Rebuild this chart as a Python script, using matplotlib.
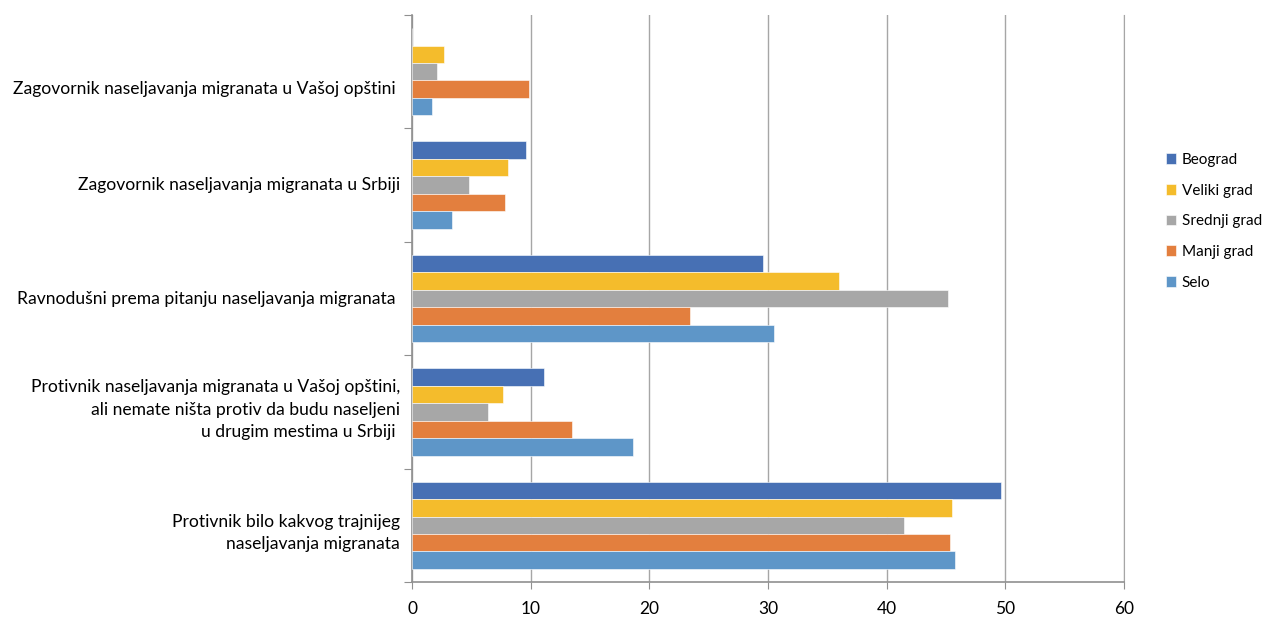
import matplotlib.pyplot as plt
import numpy as np

plt.rcParams['font.family'] = ['Lato', 'DejaVu Sans']

categories = [
    "Zagovornik naseljavanja migranata u Vašoj opštini ",
    "Zagovornik naseljavanja migranata u Srbiji",
    "Ravnodušni prema pitanju naseljavanja migranata ",
    "Protivnik naseljavanja migranata u Vašoj opštini,\nali nemate ništa protiv da budu naseljeni\nu drugim mestima u Srbiji ",
    "Protivnik bilo kakvog trajnijeg\nnaseljavanja migranata",
]
series_names = ["Beograd", "Veliki grad", "Srednji grad", "Manji grad", "Selo"]
beograd = [0.0, 9.6, 29.6, 11.1, 49.6]
veliki_grad = [2.7, 8.1, 36.0, 7.7, 45.5]
srednji_grad = [2.1, 4.8, 45.2, 6.4, 41.5]
manji_grad = [9.9, 7.8, 23.4, 13.5, 45.3]
selo = [1.7, 3.4, 30.5, 18.6, 45.8]
colors = ["#4770B4", "#F4BC2C", "#A7A7A7", "#E37F3E", "#5E96C8"]

all_series = [beograd, veliki_grad, srednji_grad, manji_grad, selo]

fig = plt.figure(figsize=(12.64, 6.19), dpi=100)
ax = fig.add_axes([412 / 1264, 37 / 619, 712 / 1264, 567 / 619])

n_cat = len(categories)
bar_h = 0.154
y_centers = np.arange(n_cat)
for j, (name, vals, c) in enumerate(zip(series_names, all_series, colors)):
    offs = (j - 2) * bar_h
    ax.barh(y_centers + offs, vals, height=bar_h, color=c, label=name,
            edgecolor='white', linewidth=0.4, zorder=3)

ax.set_ylim(n_cat - 0.5, -0.5)
ax.set_xlim(0, 60)
ax.set_xticks(range(0, 61, 10))
ax.grid(axis='x', color='#A6A6A6', linewidth=1, zorder=0)

# category boundary ticks
ax.set_yticks(np.arange(-0.5, n_cat, 1.0))
ax.set_yticklabels([])
ax.tick_params(axis='y', length=6, color='#909090', direction='out')
ax.tick_params(axis='x', length=5, color='#909090', labelsize=12.5, pad=9)
label_shift = [0.15, 0.0, 0.0, -0.02, 0.07]
for i, lab in enumerate(categories):
    ax.text(-0.017, i + label_shift[i], lab, transform=ax.get_yaxis_transform(),
            ha='right', va='center', multialignment='right',
            fontsize=12.6, linespacing=1.5)

ax.spines['top'].set_visible(False)
ax.spines['right'].set_color('#A6A6A6')
for s in ['left', 'bottom']:
    ax.spines[s].set_color('#909090')
    ax.spines[s].set_linewidth(1.2)

leg = fig.legend(loc='upper left', bbox_to_anchor=(1155 / 1264, 1 - 142 / 619),
                 frameon=False, fontsize=11, handlelength=0.7, handleheight=0.7,
                 handletextpad=0.35, labelspacing=1.1, borderpad=0.2)

fig.savefig("out.png", dpi=100)
